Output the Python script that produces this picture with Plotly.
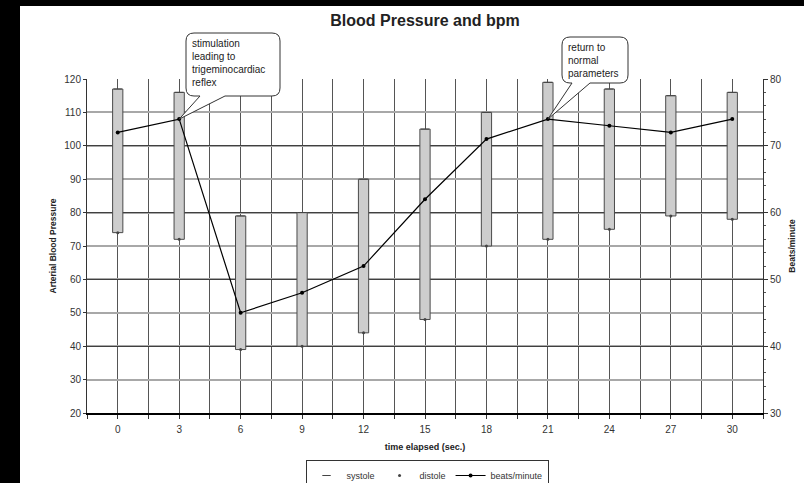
import plotly.graph_objects as go

# Measurements taken every 3 seconds
time_sec = [0, 3, 6, 9, 12, 15, 18, 21, 24, 27, 30]
systole = [117, 116, 79, 80, 90, 105, 110, 119, 117, 115, 116]
distole = [74, 72, 39, 40, 44, 48, 70, 72, 75, 79, 78]
bpm = [72, 74, 45, 48, 52, 62, 71, 74, 73, 72, 74]

# Callout notes and the time point each one refers to
callout_texts = [
    "stimulation<br>leading to<br>trigeminocardiac<br>reflex",
    "return to<br>normal<br>parameters",
]
callout_times = [3, 21]

# Figure geometry (pixels) and axis ranges
W, H = 804, 483
PL, PR, PT, PB = 87, 763, 79, 413
X_RANGE = [-1.5, 31.5]
Y_RANGE = [20, 120]
Y2_RANGE = [30, 80]

FONT = "Liberation Sans, Arial, sans-serif"


def px_x(px):
    return (px - PL) / (PR - PL)


def px_y(py):
    return (PB - py) / (PB - PT)


def data_x(t):
    return (t - X_RANGE[0]) / (X_RANGE[1] - X_RANGE[0])


def data_y2(v):
    return (v - Y2_RANGE[0]) / (Y2_RANGE[1] - Y2_RANGE[0])


def callout_path(l, r, t, b, bl, br, tip):
    rx = 8 / (PR - PL)
    ry = 8 / (PB - PT)
    L, R, T, B = px_x(l), px_x(r), px_y(t), px_y(b)
    BL, BR = px_x(bl), px_x(br)
    tx, ty = tip
    return (
        f"M{L + rx},{T} L{R - rx},{T} Q{R},{T} {R},{T - ry} "
        f"L{R},{B + ry} Q{R},{B} {R - rx},{B} L{BR},{B} L{tx},{ty} "
        f"L{BL},{B} L{L + rx},{B} Q{L},{B} {L},{B + ry} "
        f"L{L},{T - ry} Q{L},{T} {L + rx},{T} Z"
    )


fig = go.Figure()

# Pressure range bars (distole -> systole)
fig.add_trace(go.Bar(
    x=time_sec,
    y=[s - d for s, d in zip(systole, distole)],
    base=distole,
    width=0.5,
    marker=dict(color="#cdcdcd", line=dict(color="#4a4a4a", width=1)),
    showlegend=False,
    hoverinfo="skip",
))

fig.add_trace(go.Scatter(
    x=time_sec, y=systole, mode="markers", name="systole",
    marker=dict(symbol="line-ew", size=6, color="#444",
                line=dict(width=1, color="#444")),
))
fig.add_trace(go.Scatter(
    x=time_sec, y=distole, mode="markers", name="distole",
    marker=dict(symbol="circle", size=3, color="#444"),
))
fig.add_trace(go.Scatter(
    x=time_sec, y=bpm, yaxis="y2", mode="lines+markers", name="beats/minute",
    line=dict(color="black", width=1.2),
    marker=dict(symbol="circle", size=4, color="black"),
))

# Callout boxes with tails pointing at the heart-rate points
boxes = [(186, 280, 33, 96, 200, 225), (562, 628, 37, 83, 572, 590)]
shapes = []
annotations = []
for (l, r, t, b, bl, br), txt, tt in zip(boxes, callout_texts, callout_times):
    i = time_sec.index(tt)
    tip = (data_x(tt), data_y2(bpm[i]))
    shapes.append(dict(
        type="path", xref="paper", yref="paper",
        path=callout_path(l, r, t, b, bl, br, tip),
        fillcolor="white", line=dict(color="#333", width=1), layer="above",
    ))
    annotations.append(dict(
        xref="paper", yref="paper", x=px_x(l + 4), y=px_y(t + 3),
        xanchor="left", yanchor="top", align="left", showarrow=False,
        text=txt, font=dict(size=10, color="#222", family=FONT),
    ))

# Black frame strips along the left and top edges
shapes.append(dict(type="rect", xref="paper", yref="paper", layer="above",
                   x0=px_x(0), x1=px_x(20), y0=px_y(H), y1=px_y(0),
                   fillcolor="black", line=dict(width=0)))
shapes.append(dict(type="rect", xref="paper", yref="paper", layer="above",
                   x0=px_x(0), x1=px_x(W), y0=px_y(6), y1=px_y(0),
                   fillcolor="black", line=dict(width=0)))

fig.update_layout(
    width=W, height=H,
    margin=dict(l=PL, r=W - PR, t=PT, b=H - PB, pad=0, autoexpand=False),
    paper_bgcolor="white", plot_bgcolor="white",
    font=dict(family=FONT, size=10, color="#333"),
    title=dict(text="<b>Blood Pressure and bpm</b>", x=0.5, xref="paper",
               xanchor="center", y=1 - 20 / H, yref="container",
               yanchor="middle", font=dict(size=16, color="#222")),
    barmode="overlay",
    showlegend=True,
    legend=dict(orientation="h", x=0.503, xanchor="center",
                y=px_y(460), yanchor="top", bgcolor="white",
                bordercolor="#333", borderwidth=1,
                font=dict(size=9, color="#333"), itemwidth=30,
                tracegroupgap=0),
    xaxis=dict(
        range=X_RANGE, tickmode="array", tickvals=time_sec,
        ticktext=[str(t) for t in time_sec],
        showgrid=True, gridcolor="#555", gridwidth=1, zeroline=False,
        showline=True, linecolor="black", linewidth=2, ticks="",
        ticklabelstandoff=6, automargin=False,
        minor=dict(dtick=1.5, tick0=-1.5, showgrid=True, gridcolor="#555",
                   gridwidth=1, ticks="outside", ticklen=4, tickcolor="#333"),
        title=dict(text="<b>time elapsed (sec.)</b>", font=dict(size=9, color="#222"),
                   standoff=10),
        tickfont=dict(size=10),
    ),
    yaxis=dict(
        range=Y_RANGE, dtick=10, tick0=20, automargin=False,
        showgrid=True, gridcolor="#a8a8a8", gridwidth=1.5, zeroline=False,
        showline=True, linecolor="#333", linewidth=1,
        ticks="outside", ticklen=3, tickcolor="#333",
        tickfont=dict(size=10),
        title=dict(text="<b>Arterial Blood Pressure</b>",
                   font=dict(size=8.5, color="#222"), standoff=6),
    ),
    yaxis2=dict(
        range=Y2_RANGE, dtick=10, tick0=30, overlaying="y", side="right",
        automargin=False,
        showgrid=True, gridcolor="#404040", gridwidth=1, zeroline=False,
        showline=True, linecolor="#333", linewidth=1,
        ticks="outside", ticklen=4, tickcolor="#333",
        minor=dict(dtick=2, ticks="outside", ticklen=2, tickcolor="#555"),
        tickfont=dict(size=10),
        title=dict(text="<b>Beats/minute</b>", font=dict(size=8.5, color="#222"),
                   standoff=8),
    ),
    shapes=shapes,
    annotations=annotations,
)

fig.write_html("out.html")
